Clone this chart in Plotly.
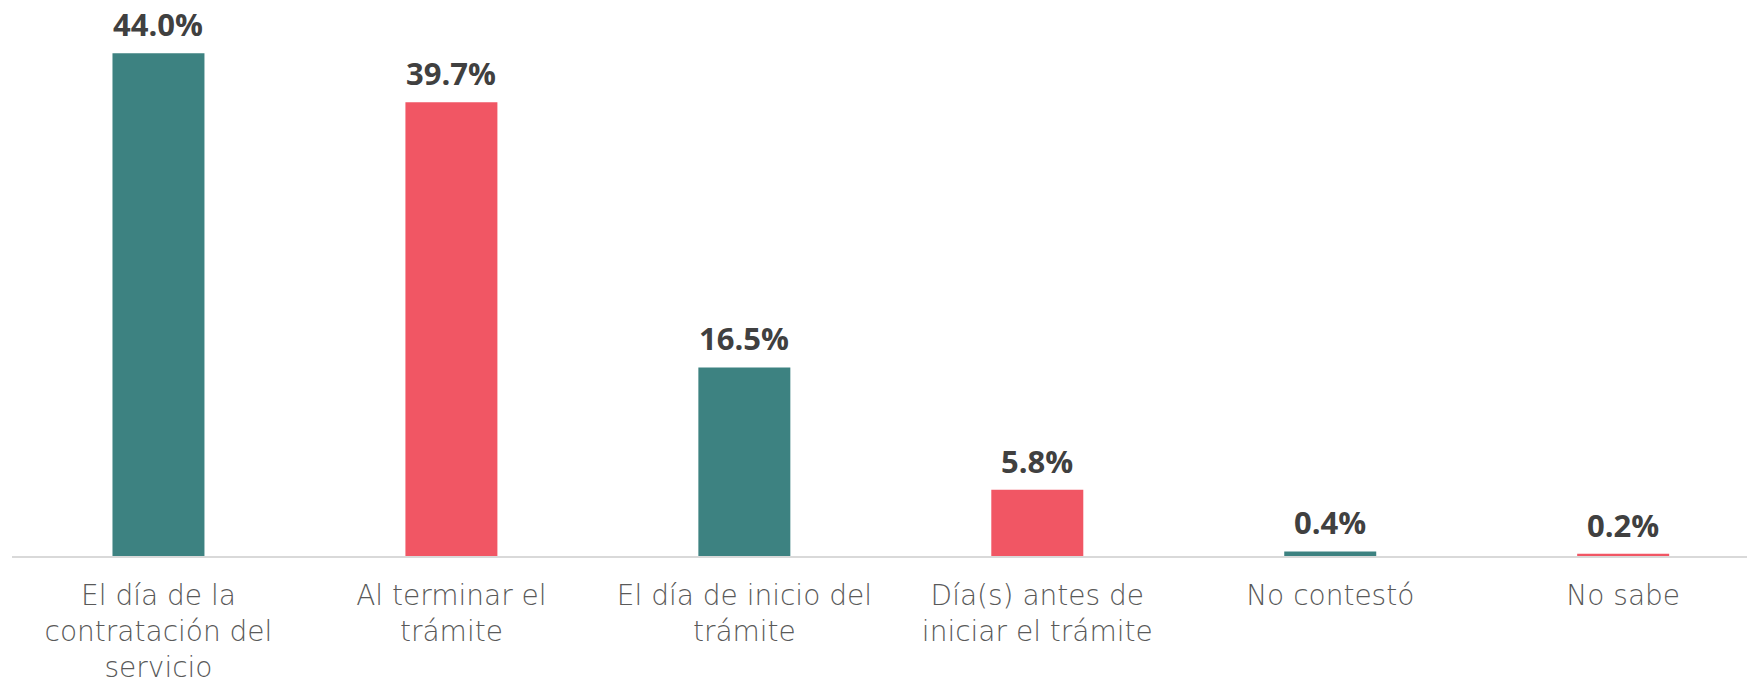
import plotly.graph_objects as go

categories = ["El día de la<br>contratación del<br>servicio", "Al terminar el<br>trámite",
              "El día de inicio del<br>trámite", "Día(s) antes de<br>iniciar el trámite",
              "No contestó", "No sabe"]
values = [44.0, 39.7, 16.5, 5.8, 0.4, 0.2]
labels = ["44.0%", "39.7%", "16.5%", "5.8%", "0.4%", "0.2%"]
colors = ["#3D8281", "#F15664", "#3D8281", "#F15664", "#3D8281", "#F15664"]

fig = go.Figure()
fig.add_trace(go.Bar(x=categories, y=values, marker=dict(color=colors, line=dict(width=0)),
                     hoverinfo="skip"))

for c, v, t in zip(categories, values, labels):
    fig.add_annotation(x=c, y=v, text=t, showarrow=False, yanchor="bottom", yshift=6,
                       font=dict(family="Open Sans", size=31, color="#404040", weight="bold"))

# page body has an 8px default margin, so the figure is sized to fill the rest of the window
fig.update_layout(
    width=1747, height=671,
    margin=dict(l=4, r=0, t=0, b=123),
    paper_bgcolor="white", plot_bgcolor="rgba(0,0,0,0)",
    bargap=0.686, showlegend=False,
    xaxis=dict(range=[-0.5, 5.45], showline=True, linecolor="#D9D9D9", linewidth=2,
               ticks="", showgrid=False, ticklabelstandoff=13, automargin=False,
               tickfont=dict(family="DejaVu Sans", size=28, color="#595959", weight=200)),
    yaxis=dict(range=[0, 47.95], visible=False, showgrid=False, automargin=False),
)
fig.write_html("out.html")
